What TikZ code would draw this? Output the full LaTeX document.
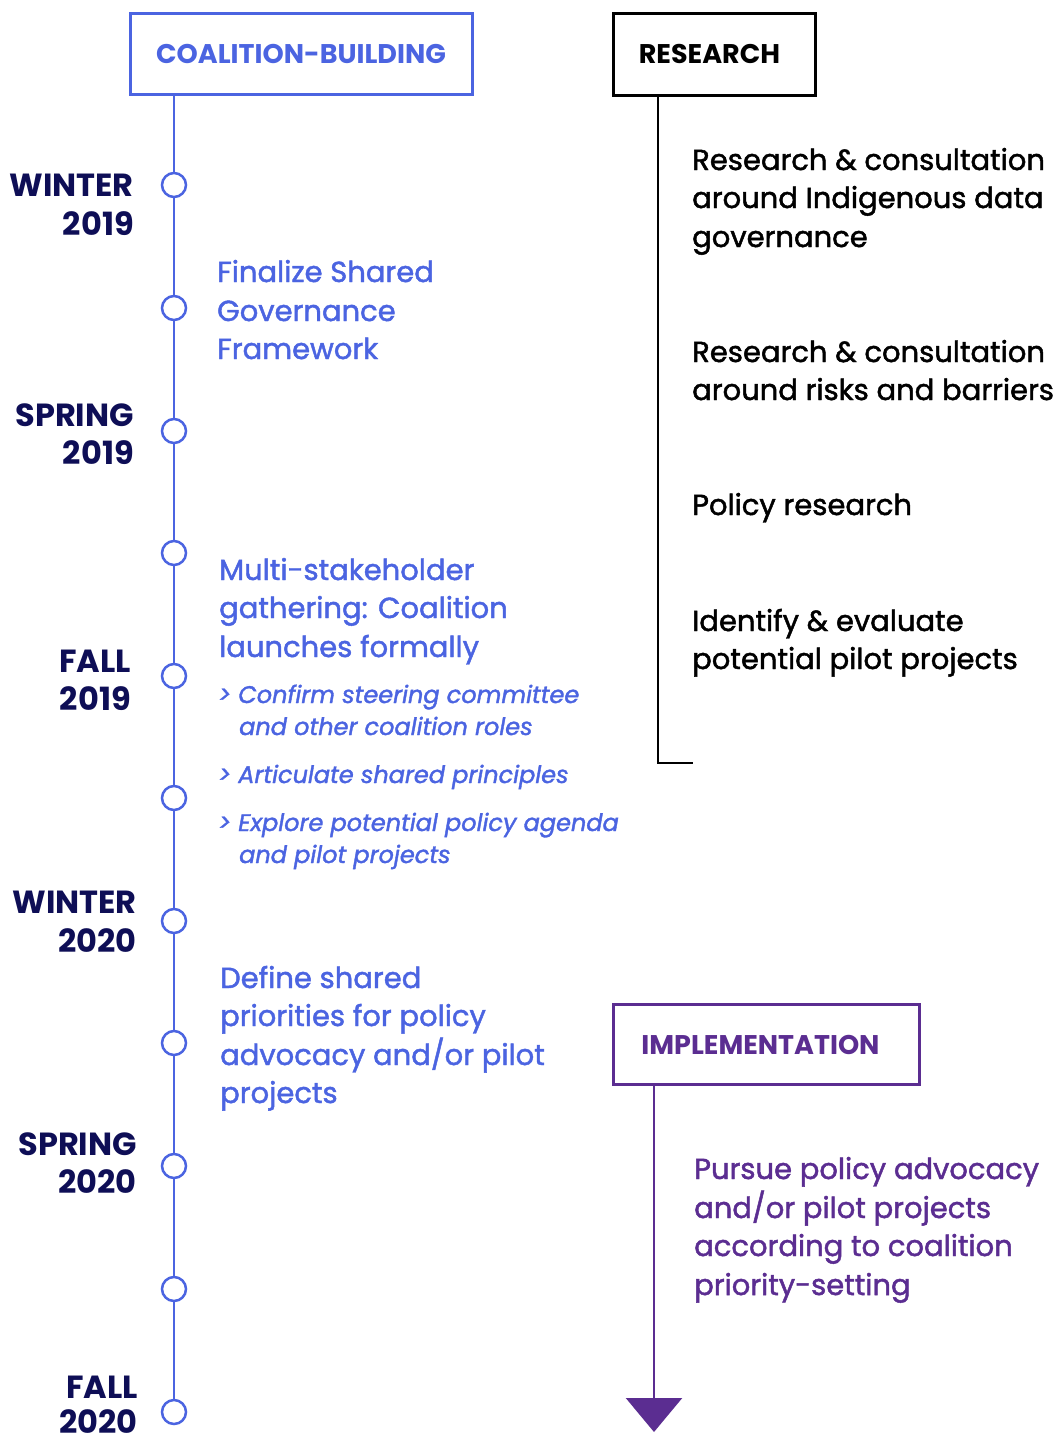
\documentclass[tikz,border=0pt]{standalone}
\usepackage{fontspec}
\setmainfont{Poppins}
\newfontfamily\medfont{Poppins}[FakeBold=1.6]
\usetikzlibrary{arrows.meta}
\definecolor{cblue}{RGB}{75,100,225}
\definecolor{cnavy}{RGB}{14,14,86}
\definecolor{cpurple}{RGB}{91,45,145}
\tikzset{
  hdrbox/.style={draw, line width=3pt, inner sep=0pt},
  hdrtxt/.style={inner sep=0pt, font=\fontsize{27}{31}\selectfont\bfseries},
  season/.style={anchor=base east, inner sep=0pt, text=cnavy, font=\fontsize{32}{36}\selectfont\bfseries},
  btxt/.style={anchor=base west, inner sep=0pt, text=cblue, font=\medfont\fontsize{29}{34}\selectfont},
  itxt/.style={anchor=base west, inner sep=0pt, text=cblue, font=\medfont\fontsize{24}{30}\selectfont\itshape},
  rtxt/.style={anchor=base west, inner sep=0pt, text=black, font=\medfont\fontsize{29}{34}\selectfont},
  ptxt/.style={anchor=base west, inner sep=0pt, text=cpurple, font=\medfont\fontsize{29}{34}\selectfont},
  dot/.style={circle, draw=cblue, fill=white, line width=2.5pt, minimum size=24pt, inner sep=0pt},
}
\begin{document}
\begin{tikzpicture}[x=1pt,y=-1pt]
\useasboundingbox (0,0) rectangle (1056,1435);
% header boxes
\node[hdrbox, draw=cblue, minimum width=342pt, minimum height=81pt] (cb) at (301,53.5) {};
\node[hdrtxt, text=cblue] (cbt) at (301,54) {COALITION-BUILDING};
\node[hdrbox, draw=black, minimum width=202pt, minimum height=82pt] (rs) at (714,54) {};
\node[hdrtxt, text=black] (rst) at (709.5,54) {RESEARCH};
\node[hdrbox, draw=cpurple, minimum width=306pt, minimum height=80pt] (im) at (766,1044) {};
\node[hdrtxt, text=cpurple] (imt) at (760.5,1045) {IMPLEMENTATION};
% timeline
\coordinate (tl0) at (174,94);
\foreach \i/\y in {1/185,2/308,3/431,4/553,5/676,6/798,7/921,8/1043,9/1166,10/1289,11/1412}{
  \coordinate (p\i) at (174,\y);
}
\draw[cblue, line width=2.5pt] (tl0) -- (p11);
\foreach \i in {1,...,11}{ \node[dot] (c\i) at (p\i) {}; }
% research line
\coordinate (r0) at (658,95);
\coordinate (r1) at (658,763);
\coordinate (r2) at (693,763);
\draw[black, line width=2.5pt] (r0) -- (r1) -- (r2);
% implementation arrow
\coordinate (i0) at (654,1084);
\coordinate (i1) at (654,1432);
\draw[cpurple, line width=2.5pt, -{Triangle[width=56pt,length=34pt]}] (i0) -- (i1);
% season labels
\node[season] (s1a) at (134,196) {WINTER};
\node[season] (s1b) at (134,235) {2019};
\node[season] (s2a) at (134,426) {SPRING};
\node[season] (s2b) at (134,464) {2019};
\node[season] (s3a) at (131,672) {FALL};
\node[season] (s3b) at (131,710) {2019};
\node[season] (s4a) at (137,913) {WINTER};
\node[season] (s4b) at (137,952) {2020};
\node[season] (s5a) at (137,1155) {SPRING};
\node[season] (s5b) at (137,1193) {2020};
\node[season] (s6a) at (138,1398) {FALL};
\node[season] (s6b) at (138,1433) {2020};
% blue texts
\node[btxt] (f1) at (217,282) {Finalize Shared};
\node[btxt] (f2) at (217,321) {Governance};
\node[btxt] (f3) at (217,359) {Framework};
\node[btxt] (m1) at (219,580) {Multi-stakeholder};
\node[btxt] (m2) at (219,618) {gathering: Coalition};
\node[btxt] (m3) at (219,657) {launches formally};
\node[itxt] (e1) at (218,703) {> Confirm steering committee};
\node[itxt] (e2) at (239,735) {and other coalition roles};
\node[itxt] (e3) at (218,783) {> Articulate shared principles};
\node[itxt] (e4) at (218,831) {> Explore potential policy agenda};
\node[itxt] (e5) at (239,863) {and pilot projects};
\node[btxt] (d1) at (220,988) {Define shared};
\node[btxt] (d2) at (220,1026) {priorities for policy};
\node[btxt] (d3) at (220,1065) {advocacy and/or pilot};
\node[btxt] (d4) at (220,1103) {projects};
% research texts
\node[rtxt] (a1) at (692,170) {Research \& consultation};
\node[rtxt] (a2) at (692,208) {around Indigenous data};
\node[rtxt] (a3) at (692,247) {governance};
\node[rtxt] (b1) at (692,362) {Research \& consultation};
\node[rtxt] (b2) at (692,400) {around risks and barriers};
\node[rtxt] (pr) at (692,515) {Policy research};
\node[rtxt] (g1) at (692,631) {Identify \& evaluate};
\node[rtxt] (g2) at (692,669) {potential pilot projects};
% implementation texts
\node[ptxt] (q1) at (694,1179) {Pursue policy advocacy};
\node[ptxt] (q2) at (694,1218) {and/or pilot projects};
\node[ptxt] (q3) at (694,1256) {according to coalition};
\node[ptxt] (q4) at (694,1295) {priority-setting};
\end{tikzpicture}
\end{document}
